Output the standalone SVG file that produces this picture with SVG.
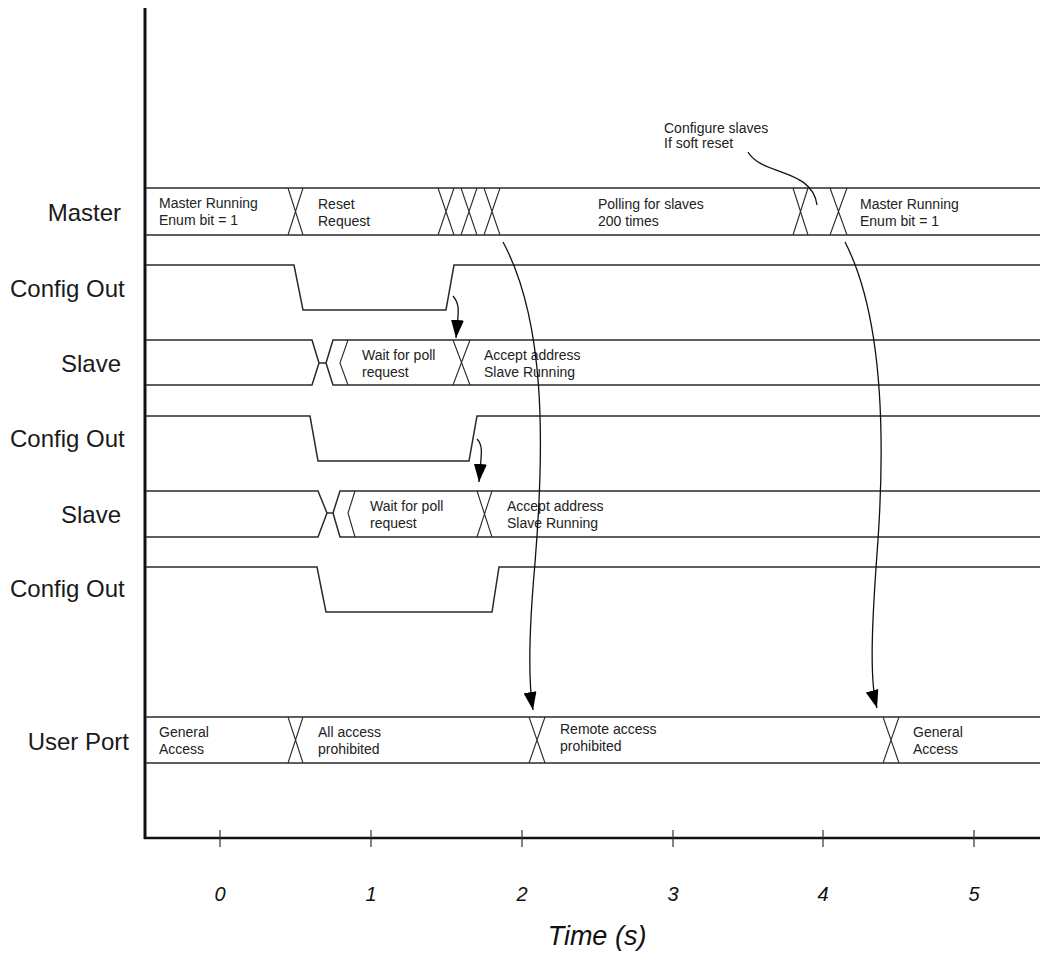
<svg xmlns="http://www.w3.org/2000/svg" width="1040" height="953" viewBox="0 0 1040 953">
<style>
.sig{fill:none;stroke:#2a2a2a;stroke-width:1.5}
.x{fill:none;stroke:#2a2a2a;stroke-width:1.1}
.lbl{font-family:"Liberation Sans",Arial,sans-serif;font-size:24px;fill:#1a1a1a}
.t{font-family:"Liberation Sans",Arial,sans-serif;font-size:14px;fill:#222}
.ax{font-family:"Liberation Sans",Arial,sans-serif;font-style:italic;fill:#111}
.con{fill:none;stroke:#111;stroke-width:1.3}
</style>
<defs>
<marker id="ah" viewBox="0 0 18 13" refX="18" refY="6.5" markerWidth="18" markerHeight="13" markerUnits="userSpaceOnUse" orient="auto">
<path d="M0,0 L18,6.5 L0,13 z" fill="#000"/>
</marker>
</defs>
<rect width="1040" height="953" fill="#fff"/>

<g id="axes">
<line x1="145" y1="8" x2="145" y2="839" stroke="#111" stroke-width="3"/>
<line x1="144" y1="838" x2="1040" y2="838" stroke="#111" stroke-width="2.5"/>
<g stroke="#333" stroke-width="1.2">
<line x1="220" y1="830" x2="220" y2="847"/><line x1="371" y1="830" x2="371" y2="847"/><line x1="522" y1="830" x2="522" y2="847"/><line x1="673" y1="830" x2="673" y2="847"/><line x1="823" y1="830" x2="823" y2="847"/><line x1="974" y1="830" x2="974" y2="847"/>
</g>
<g class="ax" font-size="20" text-anchor="middle">
<text x="220" y="901">0</text><text x="371" y="901">1</text><text x="522" y="901">2</text><text x="673" y="901">3</text><text x="823" y="901">4</text><text x="974" y="901">5</text>
</g>
<text class="ax" x="597" y="945" font-size="27" text-anchor="middle">Time (s)</text>
</g>

<g id="labels" class="lbl">
<text x="121" y="221" text-anchor="end">Master</text>
<text x="10" y="297">Config Out</text>
<text x="121" y="372" text-anchor="end">Slave</text>
<text x="10" y="447">Config Out</text>
<text x="121" y="523" text-anchor="end">Slave</text>
<text x="10" y="597">Config Out</text>
<text x="129" y="750" text-anchor="end">User Port</text>
</g>

<g id="master">
<line class="sig" x1="146" y1="188" x2="1040" y2="188"/>
<line class="sig" x1="146" y1="235" x2="1040" y2="235"/>
<path class="x" d="M288,188 L303,235 M303,188 L288,235 M438,188 L454,235 M454,188 L438,235 M461,188 L477,235 M477,188 L461,235 M484,188 L500,235 M500,188 L484,235 M793,188 L808,235 M808,188 L793,235 M830,188 L847,235 M847,188 L830,235"/>
<text class="t" x="159" y="208">Master Running</text>
<text class="t" x="159" y="225">Enum bit = 1</text>
<text class="t" x="318" y="209">Reset</text>
<text class="t" x="318" y="226">Request</text>
<text class="t" x="598" y="209">Polling for slaves</text>
<text class="t" x="598" y="226">200 times</text>
<text class="t" x="860" y="209">Master Running</text>
<text class="t" x="860" y="226">Enum bit = 1</text>
</g>

<g id="note">
<text class="t" x="664" y="133">Configure slaves</text>
<text class="t" x="664" y="148">If soft reset</text>
</g>

<g id="config1">
<path class="sig" d="M146,265 L294,265 L303,310 L446,310 L454,265 L1040,265"/>
</g>

<g id="slave1">
<path class="sig" d="M146,340 L312,340 L319,363 L326,363 L333,340 L1040,340"/>
<path class="sig" d="M146,385 L312,385 L319,363 M326,363 L333,385 L1040,385"/>
<path class="x" d="M348,340 L340,363 L348,385 M453,340 L470,385 M470,340 L453,385"/>
<text class="t" x="362" y="360">Wait for poll</text>
<text class="t" x="362" y="377">request</text>
<text class="t" x="484" y="360">Accept address</text>
<text class="t" x="484" y="377">Slave Running</text>
</g>

<g id="config2">
<path class="sig" d="M146,416 L310,416 L318,461 L469,461 L477,416 L1040,416"/>
</g>

<g id="slave2">
<path class="sig" d="M146,491 L318,491 L327,513 L333,513 L340,491 L1040,491"/>
<path class="sig" d="M146,537 L318,537 L327,513 M333,513 L340,537 L1040,537"/>
<path class="x" d="M355,491 L348,513 L355,537 M477,491 L492,537 M492,491 L477,537"/>
<text class="t" x="370" y="511">Wait for poll</text>
<text class="t" x="370" y="528">request</text>
<text class="t" x="507" y="511">Accept address</text>
<text class="t" x="507" y="528">Slave Running</text>
</g>

<g id="config3">
<path class="sig" d="M146,567 L317,567 L326,612 L492,612 L499,567 L1040,567"/>
</g>

<g id="userport">
<line class="sig" x1="146" y1="717" x2="1040" y2="717"/>
<line class="sig" x1="146" y1="763" x2="1040" y2="763"/>
<path class="x" d="M288,717 L303,763 M303,717 L288,763 M529,717 L545,763 M545,717 L529,763 M883,717 L899,763 M899,717 L883,763"/>
<text class="t" x="159" y="737">General</text>
<text class="t" x="159" y="754">Access</text>
<text class="t" x="318" y="737">All access</text>
<text class="t" x="318" y="754">prohibited</text>
<text class="t" x="560" y="734">Remote access</text>
<text class="t" x="560" y="751">prohibited</text>
<text class="t" x="913" y="737">General</text>
<text class="t" x="913" y="754">Access</text>
</g>

<g id="connectors">
<path class="con" d="M748,152 C762,176 812,168 817,205"/>
<path class="con" d="M453,296 C461,305 458,314 456,338" marker-end="url(#ah)"/>
<path class="con" d="M477,439 C484,446 481,456 479,482" marker-end="url(#ah)"/>
<path class="con" d="M503,242 C545,320 545,440 535,563 C529,630 528,680 533,710" marker-end="url(#ah)"/>
<path class="con" d="M845,242 C880,310 886,420 878,540 C872,620 869,680 877,708" marker-end="url(#ah)"/>
</g>
</svg>
